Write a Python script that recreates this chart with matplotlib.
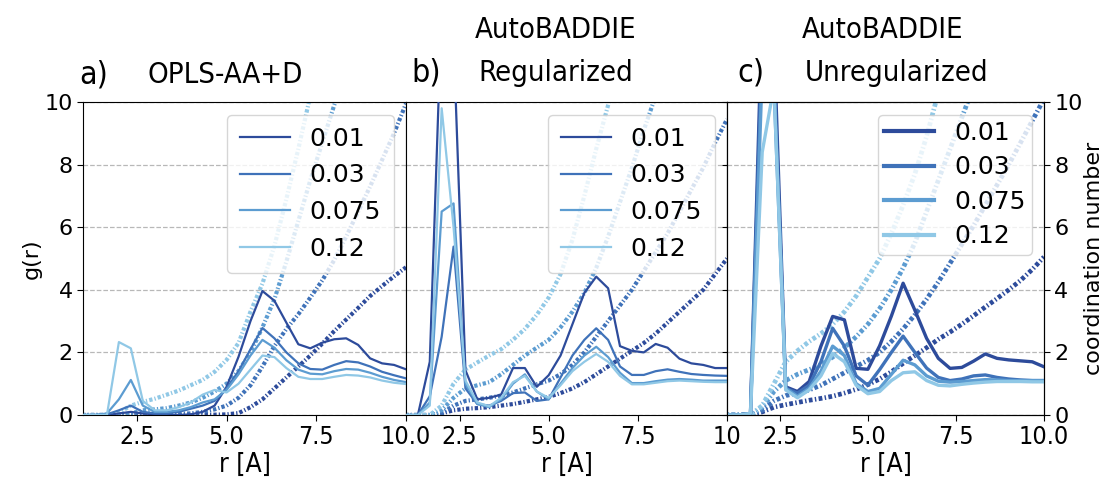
import matplotlib
matplotlib.use('Agg')
import matplotlib.pyplot as plt
from matplotlib import font_manager as fm
import numpy as np

plt.rcParams['font.family'] = ['DejaVu Sans']


def pick_narrow():
    # first narrow / condensed sans face that is installed, else Roboto
    faces = fm.fontManager.ttflist
    for want in ('Liberation Sans Narrow', 'DejaVu Sans Condensed'):
        for f in faces:
            if f.name == want and f.style == 'normal' and f.weight in (400, 'normal'):
                return fm.FontProperties(fname=f.fname)
    for f in faces:
        if f.name.startswith('DejaVu Sans') and f.stretch == 'condensed' \
                and f.style == 'normal' and f.weight in (400, 'normal'):
            return fm.FontProperties(fname=f.fname)
    return fm.FontProperties(family='Roboto')


NARROW = pick_narrow()

# radial grid (A) shared by every curve
r = np.linspace(0, 10, 31)
conc_labels = ['0.01', '0.03', '0.075', '0.12']
colors = ['#2d4b9b', '#3f72b9', '#5c9cd1', '#90c8e6']

# ---- a) OPLS-AA+D : g(r)
a_g_001 = [0, 0, 0, 0, 0, 0, 0.05, 0.1, 0.05, 0.02, 0, 0, 0.02, 0.1, 0.3, 0.9,
           1.86, 3.0, 3.96, 3.65, 2.95, 2.26, 2.13, 2.31, 2.42, 2.45, 2.24, 1.81, 1.65, 1.6, 1.46]
a_g_003 = [0, 0, 0, 0, 0, 0.02, 0.15, 0.3, 0.1, 0.05, 0.05, 0.1, 0.2, 0.3, 0.45, 0.85,
           1.4, 2.1, 2.78, 2.45, 2.0, 1.65, 1.47, 1.45, 1.6, 1.72, 1.68, 1.55, 1.38, 1.27, 1.17]
a_g_0075 = [0, 0, 0, 0, 0, 0.05, 0.5, 1.12, 0.3, 0.1, 0.1, 0.15, 0.25, 0.4, 0.5, 0.8,
            1.3, 1.9, 2.4, 2.15, 1.75, 1.45, 1.32, 1.3, 1.4, 1.47, 1.45, 1.35, 1.22, 1.12, 1.05]
a_g_012 = [0, 0, 0, 0, 0, 0, 2.33, 2.13, 0.45, 0.15, 0.15, 0.25, 0.4, 0.65, 0.8, 0.72,
           1.0, 1.45, 1.9, 1.85, 1.5, 1.22, 1.15, 1.15, 1.22, 1.28, 1.26, 1.2, 1.1, 1.03, 0.99]
# ---- a) coordination numbers
a_n_001 = [0, 0, 0, 0, 0, 0, 0, 0, 0, 0, 0, 0, 0, 0.01, 0.01, 0.02,
           0.06, 0.25, 0.5, 0.85, 1.2, 1.55, 1.9, 2.28, 2.68, 3.05, 3.42, 3.8, 4.12, 4.43, 4.72]
a_n_003 = [0, 0, 0, 0, 0, 0, 0, 0.02, 0.03, 0.03, 0.04, 0.04, 0.05, 0.1, 0.18, 0.3,
           0.55, 0.95, 1.55, 2.2, 2.75, 3.22, 3.75, 4.3, 4.95, 5.7, 6.5, 7.3, 8.15, 9.0, 9.95]
a_n_0075 = [0, 0, 0, 0, 0, 0, 0, 0.05, 0.15, 0.18, 0.22, 0.3, 0.4, 0.55, 0.75, 1.0,
            1.4, 2.0, 2.8, 3.7, 4.9, 6.2, 7.5, 8.7, 9.9, 11.0]
a_n_012 = [0, 0, 0, 0, 0, 0, 0.08, 0.3, 0.42, 0.52, 0.65, 0.78, 0.95, 1.12, 1.38, 1.76,
           2.3, 3.3, 4.2, 5.4, 6.9, 8.5, 10.2, 12.0]

# ---- b) AutoBADDIE regularized : g(r)
b_g_001 = [0, 0, 0, 0, 0, 1.7, 13.0, 12.0, 1.43, 0.5, 0.55, 0.65, 1.5, 1.5, 0.9, 1.27,
           1.9, 2.9, 3.9, 4.42, 4.05, 2.2, 2.05, 2.0, 2.27, 2.15, 1.8, 1.65, 1.6, 1.5, 1.5]
b_g_003 = [0, 0, 0, 0, 0, 0.6, 2.5, 5.38, 0.85, 0.35, 0.3, 0.45, 0.7, 0.72, 0.45, 0.5,
           1.2, 1.9, 2.4, 2.77, 2.4, 1.55, 1.28, 1.28, 1.4, 1.46, 1.38, 1.31, 1.28, 1.26, 1.25]
b_g_0075 = [0, 0, 0, 0, 0, 0.4, 6.5, 6.76, 1.0, 0.35, 0.25, 0.5, 1.0, 1.3, 0.75, 0.5,
            1.0, 1.5, 1.9, 2.18, 1.85, 1.35, 1.02, 1.02, 1.08, 1.13, 1.15, 1.13, 1.1, 1.1, 1.1]
b_g_012 = [0, 0, 0, 0, 0, 0.3, 9.8, 6.0, 1.1, 0.4, 0.28, 0.55, 1.05, 1.25, 0.75, 0.55,
           0.95, 1.4, 1.7, 1.95, 1.7, 1.25, 0.98, 0.98, 1.03, 1.08, 1.1, 1.08, 1.06, 1.05, 1.05]
# ---- b) coordination numbers
b_n_001 = [0, 0, 0, 0, 0, 0, 0.05, 0.15, 0.2, 0.22, 0.25, 0.3, 0.35, 0.42, 0.5, 0.58,
           0.7, 0.85, 1.05, 1.3, 1.55, 1.8, 2.05, 2.3, 2.6, 2.95, 3.3, 3.65, 4.0, 4.5, 5.0]
b_n_003 = [0, 0, 0, 0, 0, 0, 0.05, 0.3, 0.45, 0.5, 0.55, 0.62, 0.72, 0.85, 0.98, 1.1,
           1.3, 1.6, 2.0, 2.5, 3.0, 3.5, 4.0, 4.6, 5.2, 5.8, 6.5, 7.2, 7.9, 8.7, 9.45]
b_n_0075 = [0, 0, 0, 0, 0, 0, 0.15, 0.55, 0.85, 0.95, 1.05, 1.3, 1.6, 1.9, 2.15, 2.4,
            2.8, 3.3, 3.9, 4.7, 5.7, 6.8, 7.9, 9.1, 10.2]
b_n_012 = [0, 0, 0, 0, 0, 0, 0.3, 1.0, 1.45, 1.68, 1.9, 2.1, 2.4, 2.75, 3.2, 3.75,
           4.5, 5.6, 7.0, 8.5, 9.9, 11.2]

# ---- c) AutoBADDIE unregularized : g(r)
c_g_001 = [0, 0, 0, 0, 0, 0.05, 13.0, 12.0, 0.9, 0.75, 1.07, 2.2, 3.15, 3.04, 1.49, 1.46,
           2.21, 3.16, 4.21, 3.35, 2.45, 1.81, 1.49, 1.52, 1.72, 1.95, 1.81, 1.76, 1.73, 1.7, 1.54]
c_g_003 = [0, 0, 0, 0, 0, 0.05, 12.0, 11.0, 0.85, 0.7, 0.95, 1.7, 2.77, 2.2, 1.25, 0.95,
           1.45, 2.0, 2.52, 2.0, 1.5, 1.2, 1.1, 1.15, 1.25, 1.28, 1.2, 1.15, 1.12, 1.1, 1.1]
c_g_0075 = [0, 0, 0, 0, 0, 0.05, 11.0, 10.5, 0.85, 0.6, 0.85, 1.4, 2.2, 1.9, 1.0, 0.75,
            0.85, 1.3, 1.75, 1.6, 1.25, 1.08, 1.05, 1.07, 1.1, 1.13, 1.12, 1.1, 1.1, 1.1, 1.1]
c_g_012 = [0, 0, 0, 0, 0, 0.05, 8.4, 10.5, 0.8, 0.55, 0.8, 1.25, 1.97, 1.7, 0.95, 0.68,
           0.75, 1.1, 1.35, 1.38, 1.1, 0.95, 0.93, 0.98, 1.02, 1.05, 1.07, 1.07, 1.07, 1.06, 1.06]
# ---- c) coordination numbers
c_n_001 = [0, 0, 0, 0, 0, 0, 0.1, 0.25, 0.33, 0.4, 0.47, 0.53, 0.6, 0.7, 0.82, 0.97,
           1.15, 1.38, 1.65, 1.9, 2.15, 2.42, 2.65, 2.9, 3.17, 3.45, 3.72, 4.0, 4.3, 4.65, 5.05]
c_n_003 = [0, 0, 0, 0, 0, 0, 0.15, 0.45, 0.62, 0.7, 0.8, 0.95, 1.15, 1.35, 1.55, 1.75,
           2.0, 2.35, 2.75, 3.2, 3.7, 4.25, 4.85, 5.45, 6.05, 6.7, 7.35, 8.0, 8.7, 9.4, 10.1]
c_n_0075 = [0, 0, 0, 0, 0, 0, 0.25, 0.75, 1.1, 1.3, 1.45, 1.6, 1.85, 2.15, 2.5, 2.9,
            3.4, 4.0, 4.7, 5.5, 6.5, 7.5, 8.5, 9.5, 10.5]
c_n_012 = [0, 0, 0, 0, 0, 0, 0.3, 1.0, 1.7, 2.05, 2.35, 2.6, 2.9, 3.3, 3.8, 4.4,
           5.0, 5.8, 6.7, 7.7, 8.9, 10.3]

W, H = 1112, 480
fig = plt.figure(figsize=(W / 100, H / 100), dpi=100)


def narrow(size):
    fp = NARROW.copy()
    fp.set_size(size)
    return fp


def px_rect(x0, x1, y_top=102, y_bot=415):
    return [x0 / W, 1 - y_bot / H, (x1 - x0) / W, (y_bot - y_top) / H]


def draw_panel(ax, grs, cns, lw_g, lw_cn, xlabels, **leg_kw):
    for g, c, lab in zip(grs, colors, conc_labels):
        ax.plot(r, g, color=c, lw=lw_g, label=lab, zorder=3)
    for n, c in zip(cns, colors):
        ax.plot(r[:len(n)], n, color=c, lw=lw_cn,
                linestyle=(0, (0.8, 0.5, 0.3, 0.5)), zorder=2)
    ax.set_xlim(1.0, 10.0)
    ax.set_ylim(0, 10)
    ax.set_xticks([2.5, 5.0, 7.5, 10.0])
    ax.set_xticklabels(xlabels, fontproperties=narrow(18))
    ax.set_yticks([0, 2, 4, 6, 8, 10])
    ax.grid(axis='y', ls='--', color='#b8b8b8', lw=0.9)
    ax.set_axisbelow(True)
    ax.tick_params(axis='x', length=4, pad=3)
    ax.set_xlabel('r [A]', fontproperties=narrow(19), labelpad=2)
    return ax.legend(loc='upper right', fontsize=18, handlelength=2.0,
                     framealpha=0.8, edgecolor='#cccccc', fancybox=True, **leg_kw)


ax_a = fig.add_axes(px_rect(83, 406))
ax_b = fig.add_axes(px_rect(406, 727))
ax_c = fig.add_axes(px_rect(727, 1044))

ticks_txt = ['2.5', '5.0', '7.5', '10.0']
draw_panel(ax_a, [a_g_001, a_g_003, a_g_0075, a_g_012],
           [a_n_001, a_n_003, a_n_0075, a_n_012], 1.6, 3.0, ticks_txt,
           labelspacing=0.5, borderpad=0.5)
draw_panel(ax_b, [b_g_001, b_g_003, b_g_0075, b_g_012],
           [b_n_001, b_n_003, b_n_0075, b_n_012], 1.6, 3.0,
           ['2.5', '5.0', '7.5', '10'], labelspacing=0.5, borderpad=0.5)
leg_c = draw_panel(ax_c, [c_g_001, c_g_003, c_g_0075, c_g_012],
                   [c_n_001, c_n_003, c_n_0075, c_n_012], 2.4, 3.4, ticks_txt,
                   labelspacing=0.42, borderpad=0.25)
for h in leg_c.get_lines():
    h.set_linewidth(3.0)

ax_a.tick_params(axis='y', labelsize=16, length=4)
ax_a.set_ylabel('g(r)', fontsize=16, labelpad=2)
for ax in (ax_b, ax_c):
    ax.tick_params(axis='y', left=False, labelleft=False)

ax_cn = ax_c.twinx()
ax_cn.set_ylim(0, 10)
ax_cn.set_yticks([0, 2, 4, 6, 8, 10])
ax_cn.tick_params(axis='y', labelsize=16, length=4)
ax_cn.set_ylabel('coordination number', fontsize=16, labelpad=1)


# panel headings
def head(x, y, s, size=21):
    fig.text(x / W, 1 - y / H, s, ha='center', va='center',
             fontproperties=narrow(size))


head(94, 75, 'a)', 23)
head(225, 75, 'OPLS-AA+D')
head(426, 73, 'b)', 23)
head(556, 30, 'AutoBADDIE')
head(556, 73, 'Regularized')
head(751, 73, 'c)', 23)
head(883, 30, 'AutoBADDIE')
head(897, 73, 'Unregularized')

fig.savefig('out.png', dpi=100)
